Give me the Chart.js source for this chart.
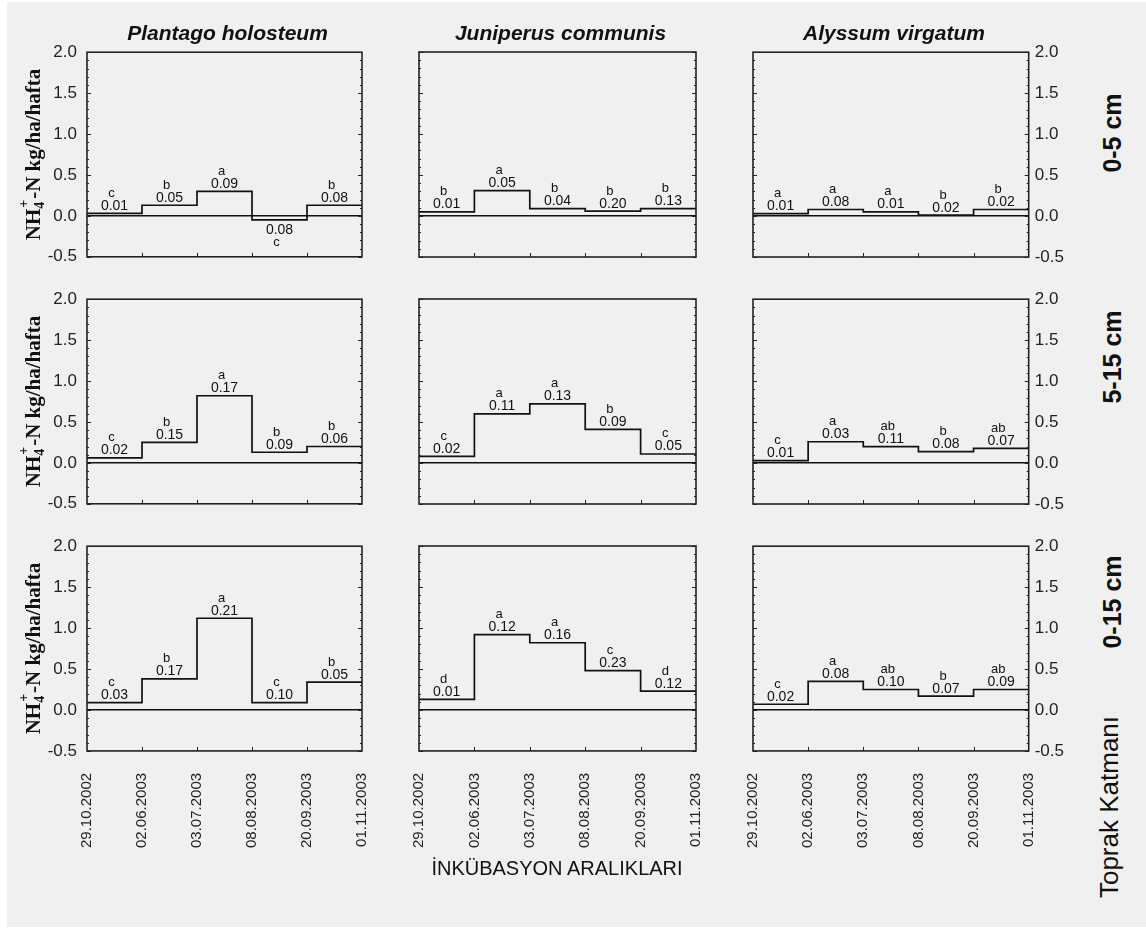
<!DOCTYPE html>
<html>
<head>
<meta charset="utf-8">
<script src="https://cdn.jsdelivr.net/npm/chart.js@4.4.1/dist/chart.umd.min.js"></script>
<style>
  html, body { margin: 0; padding: 0; background: #fff; }
  #bg { position: absolute; left: 7px; top: 2px; width: 1139px; height: 925px; background: #f0f0f0; }
  canvas { position: absolute; }
  .txt { position: absolute; white-space: nowrap; color: #111; font-family: 'Liberation Sans', Arial, sans-serif; }
  .sp { font-weight: bold; font-style: italic; font-size: 21px; transform: translate(-50%, -50%); }
  .plain { font-size: 20px; transform: translate(-50%, -50%); }
  .rot { transform: translate(-50%, -50%) rotate(-90deg); font-size: 26px; }
  .depth { font-weight: bold; font-size: 25px; }
</style>
</head>
<body>
<div id="bg"></div>
<div id="holder"></div>
<script>
const species = ['Plantago holosteum', 'Juniperus communis', 'Alyssum virgatum'];
const depths = ['0-5 cm', '5-15 cm', '0-15 cm'];
const dates = ['29.10.2002', '02.06.2003', '03.07.2003', '08.08.2003', '20.09.2003', '01.11.2003'];
const yTicks = [-0.5, 0.0, 0.5, 1.0, 1.5, 2.0];

// NH4+-N per interval (kg/ha/hafta)
const plantago05 = [0.03, 0.13, 0.30, -0.05, 0.13];
const juniperus05 = [0.05, 0.31, 0.09, 0.06, 0.09];
const alyssum05 = [0.03, 0.08, 0.05, 0.01, 0.08];
const plantago515 = [0.06, 0.25, 0.82, 0.13, 0.20];
const juniperus515 = [0.08, 0.60, 0.72, 0.41, 0.11];
const alyssum515 = [0.03, 0.26, 0.20, 0.14, 0.18];
const plantago015 = [0.09, 0.38, 1.12, 0.09, 0.34];
const juniperus015 = [0.13, 0.92, 0.82, 0.48, 0.23];
const alyssum015 = [0.07, 0.35, 0.25, 0.17, 0.25];

// significance letters and printed values above each step
const letters05 = [['c', 'b', 'a', 'c', 'b'], ['b', 'a', 'b', 'b', 'b'], ['a', 'a', 'a', 'b', 'b']];
const letters515 = [['c', 'b', 'a', 'b', 'b'], ['c', 'a', 'a', 'b', 'c'], ['c', 'a', 'ab', 'b', 'ab']];
const letters015 = [['c', 'b', 'a', 'c', 'b'], ['d', 'a', 'a', 'c', 'd'], ['c', 'a', 'ab', 'b', 'ab']];
const se05 = [['0.01', '0.05', '0.09', '0.08', '0.08'], ['0.01', '0.05', '0.04', '0.20', '0.13'], ['0.01', '0.08', '0.01', '0.02', '0.02']];
const se515 = [['0.02', '0.15', '0.17', '0.09', '0.06'], ['0.02', '0.11', '0.13', '0.09', '0.05'], ['0.01', '0.03', '0.11', '0.08', '0.07']];
const se015 = [['0.03', '0.17', '0.21', '0.10', '0.05'], ['0.01', '0.12', '0.16', '0.23', '0.12'], ['0.02', '0.08', '0.10', '0.07', '0.09']];

const values = [
  [plantago05, juniperus05, alyssum05],
  [plantago515, juniperus515, alyssum515],
  [plantago015, juniperus015, alyssum015]
];
const letters = [letters05, letters515, letters015];
const seLabels = [se05, se515, se015];

// panel geometry (plot area of each panel)
const colX = [87, 419, 753];
const colW = [275, 277, 276];
const rowY = [52, 299, 546];
const plotH = 205;

const FONT = "'Liberation Sans', Arial, sans-serif";
const holder = document.getElementById('holder');

function addText(text, cls, x, y) {
  const d = document.createElement('div');
  d.className = 'txt ' + cls;
  d.textContent = text;
  d.style.left = x + 'px';
  d.style.top = y + 'px';
  holder.appendChild(d);
}

function makeDecor(vals, lets, ses, withTitle) {
  return {
    id: 'panelDecor',
    afterDatasetsDraw(chart) {
      const { ctx, chartArea: a, scales: { x, y } } = chart;
      ctx.save();
      ctx.strokeStyle = '#222';
      ctx.lineWidth = 1;
      ctx.beginPath();
      for (let k = 0; k <= 25; k++) {
        const py = Math.round(y.getPixelForValue(-0.5 + k * 0.1)) + 0.5;
        const len = k % 5 === 0 ? 4 : 2;
        ctx.moveTo(a.left, py); ctx.lineTo(a.left + len, py);
        ctx.moveTo(a.right - len, py); ctx.lineTo(a.right, py);
      }
      for (let i = 1; i < dates.length - 1; i++) {
        const px = Math.round(x.getPixelForValue(i)) + 0.5;
        ctx.moveTo(px, a.bottom - 4); ctx.lineTo(px, a.bottom);
      }
      ctx.stroke();
      ctx.lineWidth = 1.6;
      ctx.strokeRect(a.left, a.top, a.width, a.height);

      ctx.fillStyle = '#111';
      ctx.textAlign = 'center';
      ctx.textBaseline = 'alphabetic';
      for (let i = 0; i < vals.length; i++) {
        const cx = (x.getPixelForValue(i) + x.getPixelForValue(i + 1)) / 2;
        const py = y.getPixelForValue(vals[i]);
        const up = vals[i] >= 0;
        ctx.font = '14px ' + FONT;
        ctx.fillText(ses[i], cx, up ? py - 3.5 : py + 14.5);
        ctx.font = '13px ' + FONT;
        ctx.fillText(lets[i], cx - 3, up ? py - 16.5 : py + 26);
      }

      if (withTitle) {
        const cy = (a.top + a.bottom) / 2;
        ctx.translate(a.left - 54, cy);
        ctx.rotate(-Math.PI / 2);
        ctx.textAlign = 'left';
        const big = 'bold 21px "Liberation Serif", "Times New Roman", serif';
        const small = 'bold 14px "Liberation Serif", "Times New Roman", serif';
        const p1 = 'NH', p3 = '-N kg/ha/hafta';
        ctx.font = big;
        const w1 = ctx.measureText(p1).width, w3 = ctx.measureText(p3).width;
        ctx.font = small;
        const w2 = Math.max(ctx.measureText('4').width, ctx.measureText('+').width) + 2;
        const sx = -(w1 + w2 + w3) / 2;
        const base = 7;
        ctx.font = big;
        ctx.fillText(p1, sx, base);
        ctx.font = small;
        ctx.fillText('4', sx + w1, base + 4);
        ctx.fillText('+', sx + w1 + 1, base - 12);
        ctx.font = big;
        ctx.fillText(p3, sx + w1 + w2, base);
      }
      ctx.restore();
    }
  };
}

function buildChart(cv, r, c) {
  const vals = values[r][c];
  const pts = vals.map((v, i) => ({ x: i, y: v }));
  pts.push({ x: vals.length, y: vals[vals.length - 1] });

  return new Chart(cv.getContext('2d'), {
    type: 'line',
    data: {
      datasets: [{
        data: pts,
        stepped: true,
        borderColor: '#111',
        borderWidth: 1.7,
        pointRadius: 0,
        fill: false
      }]
    },
    options: {
      responsive: false,
      maintainAspectRatio: false,
      animation: false,
      devicePixelRatio: 1,
      layout: { padding: { left: c === 0 ? 0 : 10, right: 10, top: 10, bottom: 10 } },
      plugins: { legend: { display: false }, tooltip: { enabled: false } },
      scales: {
        x: {
          type: 'linear', min: 0, max: dates.length - 1,
          grid: { display: false },
          border: { display: false },
          ticks: {
            display: r === 2, stepSize: 1, autoSkip: false,
            minRotation: 90, maxRotation: 90, padding: 14,
            color: '#222', font: { family: FONT, size: 15 },
            callback: (v) => dates[v]
          }
        },
        y: {
          position: c === 2 ? 'right' : 'left',
          min: yTicks[0], max: yTicks[yTicks.length - 1],
          border: { display: false },
          grid: {
            drawTicks: false,
            lineWidth: 1.6,
            color: (ctx) => (ctx.tick && Math.abs(ctx.tick.value) < 1e-9 ? '#111' : 'rgba(0,0,0,0)')
          },
          ticks: {
            display: c !== 1, stepSize: 0.5, padding: c === 0 ? 10 : 6,
            color: '#222', font: { family: FONT, size: 17 },
            callback: (v) => Number(v).toFixed(1)
          },
          afterFit: (s) => { if (c === 0) s.width = 87; }
        }
      }
    },
    plugins: [makeDecor(vals, letters[r][c], seLabels[r][c], c === 0)]
  });
}

function sizeCanvas(cv, w, h) {
  cv.width = w; cv.height = h;
  cv.style.width = w + 'px'; cv.style.height = h + 'px';
}

for (let r = 0; r < 3; r++) {
  for (let c = 0; c < 3; c++) {
    // first pass: find how much room the axes take around the plot area
    const w0 = 500, h0 = 400;
    const probe = document.createElement('canvas');
    sizeCanvas(probe, w0, h0);
    holder.appendChild(probe);
    const tmp = buildChart(probe, r, c);
    const a = tmp.chartArea;
    const L = a.left, T = a.top, R = w0 - a.right, B = h0 - a.bottom;
    tmp.destroy();
    holder.removeChild(probe);

    // second pass: canvas sized so the plot area lands exactly on the panel
    const cv = document.createElement('canvas');
    sizeCanvas(cv, colW[c] + L + R, plotH + T + B);
    cv.style.left = (colX[c] - L) + 'px';
    cv.style.top = (rowY[r] - T) + 'px';
    holder.appendChild(cv);
    buildChart(cv, r, c);
  }
}

species.forEach((s, c) => addText(s, 'sp', colX[c] + colW[c] / 2 + 3, 33));
const depthY = [133, 357, 602];
depths.forEach((d, r) => addText(d, 'rot depth', 1112, depthY[r]));
addText('Toprak Katmanı', 'rot', 1109, 807);
addText('İNKÜBASYON ARALIKLARI', 'plain', 557, 868);
</script>
</body>
</html>
